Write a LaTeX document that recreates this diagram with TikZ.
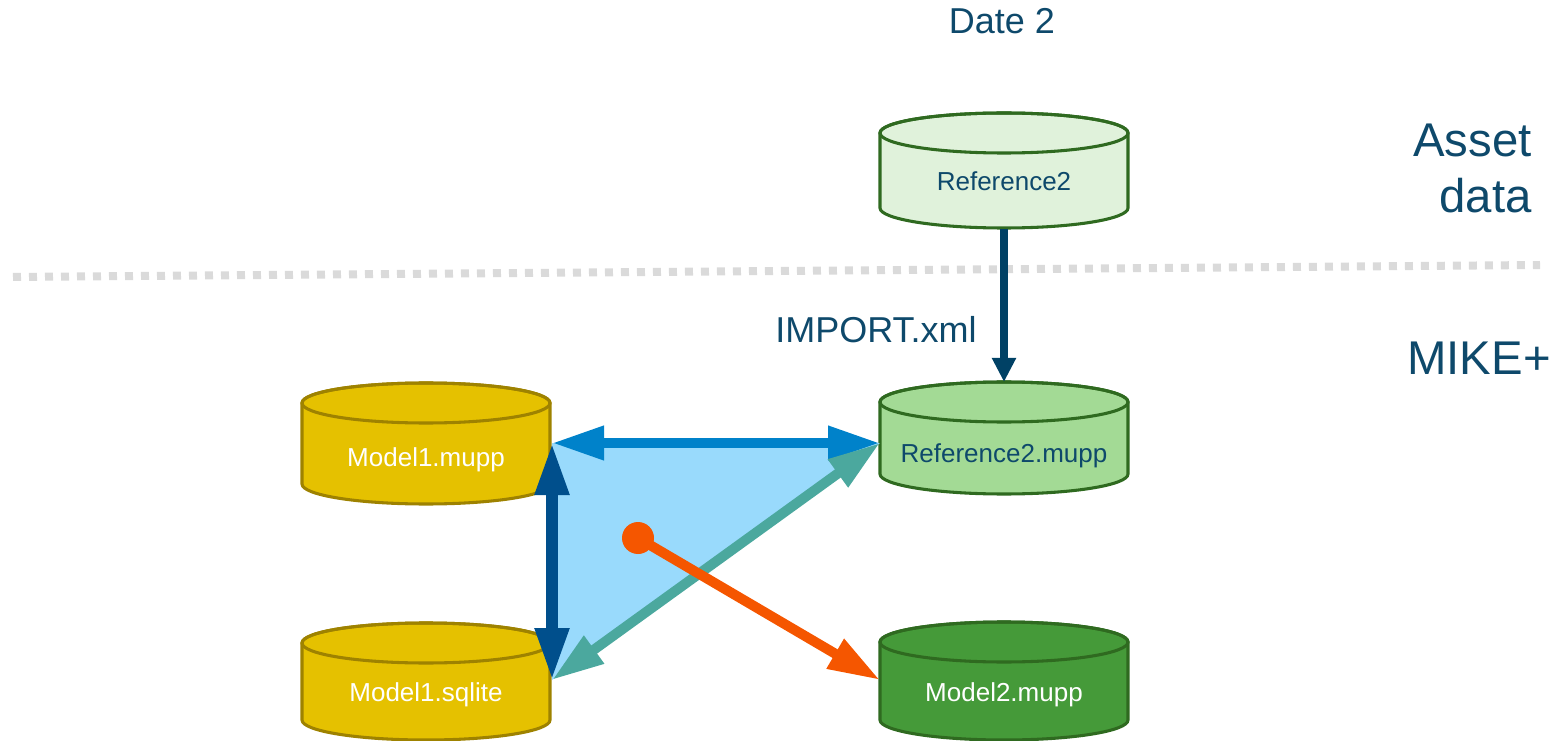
\documentclass[tikz,border=0pt]{standalone}
\usepackage{fontspec}
\setmainfont{Liberation Sans}
\usetikzlibrary{arrows.meta}
\definecolor{txtblue}{RGB}{14,73,107}
\definecolor{goldfill}{RGB}{229,193,0}
\definecolor{goldline}{RGB}{158,130,0}
\definecolor{palegreen}{RGB}{224,242,219}
\definecolor{midgreen}{RGB}{163,218,149}
\definecolor{darkgreen}{RGB}{69,154,57}
\definecolor{greenline}{RGB}{47,106,32}
\definecolor{arrblue}{RGB}{0,130,202}
\definecolor{arrdark}{RGB}{0,79,140}
\definecolor{arrteal}{RGB}{75,168,158}
\definecolor{arrorange}{RGB}{245,86,0}
\definecolor{arrnavy}{RGB}{0,65,101}
\definecolor{trifill}{RGB}{153,218,252}
\definecolor{dotgray}{RGB}{218,218,218}
\tikzset{
  x=0.75pt, y=0.75pt,
  cyltext/.style={font=\fontsize{19.5}{23}\selectfont, anchor=base, inner sep=0pt},
  bigarrow/.style={line width=7.5pt, {Triangle[length=39pt,width=24pt]}-{Triangle[length=39pt,width=24pt]}},
  lbl/.style={text=txtblue, inner sep=0pt},
}
\newcommand{\dbcyl}[9]{%
  \pgfmathsetmacro{\cyA}{#2-124}%
  \pgfmathsetmacro{\cyB}{#2+124}%
  \pgfmathsetmacro{\cyT}{-(#3+20)}%
  \pgfmathsetmacro{\cyU}{-(#4-20)}%
  \pgfmathsetmacro{\cyL}{-(#9)}%
  \filldraw[fill=#5, draw=#6, line width=2.3pt] (\cyA,\cyT) -- (\cyA,\cyU)
    arc[start angle=180, end angle=360, x radius=124, y radius=20]
    -- (\cyB,\cyT)
    arc[start angle=0, end angle=180, x radius=124, y radius=20] -- cycle;
  \draw[draw=#6, line width=2.3pt] (#2,\cyT) ellipse[x radius=124, y radius=20];
  \node[cyltext, text=#7] (#1) at (#2,\cyL) {#8};
}
\begin{document}
\begin{tikzpicture}
\useasboundingbox (0,0) rectangle (1563,-741);
% separator
\draw[dotgray, line width=6pt, dash pattern=on 6pt off 6pt] (13,-277) -- (1540,-265);
% labels
\node[lbl, anchor=base, font=\fontsize{27}{32}\selectfont] (date) at (1002,-34) {Date 2};
\node[lbl, anchor=base east, font=\fontsize{35.5}{42}\selectfont] (asset) at (1532,-157) {Asset};
\node[lbl, anchor=base east, font=\fontsize{35.5}{42}\selectfont] (data) at (1532,-213) {data};
\node[lbl, anchor=base west, font=\fontsize{35.5}{42}\selectfont] (mike) at (1407,-375) {MIKE+};
\node[lbl, anchor=base west, font=\fontsize{27}{32}\selectfont] (import) at (775,-343) {IMPORT.xml};
% cylinders
\dbcyl{ref2}{1004}{113}{228}{palegreen}{greenline}{txtblue}{Reference2}{191}
\dbcyl{ref2m}{1004}{382}{494}{midgreen}{greenline}{txtblue}{Reference2.mupp}{462}
\dbcyl{m1}{426}{383}{504}{goldfill}{goldline}{white}{Model1.mupp}{466}
\dbcyl{m1s}{426}{623}{740}{goldfill}{goldline}{white}{Model1.sqlite}{701}
\dbcyl{m2}{1004}{622}{740}{darkgreen}{greenline}{white}{Model2.mupp}{701}
% connector points
\coordinate (ref2b) at (1004,-229);
\coordinate (ref2t) at (1004,-382);
\coordinate (m1r) at (552,-443);
\coordinate (refl) at (880,-443);
\coordinate (m1sr) at (552,-680);
\coordinate (m2l) at (880,-680);
% triangle
\fill[trifill] (m1r) -- (refl) -- (m1sr) -- cycle;
% arrows
\draw[arrnavy, line width=5.3pt, -{Triangle[length=18pt,width=17pt]}] (ref2b) -- (ref2t);
\draw[arrblue, bigarrow] (m1r) -- (refl);
\draw[arrdark, line width=8.3pt, {Triangle[length=39pt,width=24pt]}-{Triangle[length=39pt,width=24pt]}] (m1r) -- (m1sr);
\draw[arrteal, bigarrow] (m1sr) -- (refl);
\node[circle, fill=arrorange, minimum size=24pt, inner sep=0pt] (dot) at (638,-538) {};
\draw[arrorange, line width=7.5pt, -{Triangle[length=39pt,width=24pt]}] (dot.center) -- (m2l);
\end{tikzpicture}
\end{document}
